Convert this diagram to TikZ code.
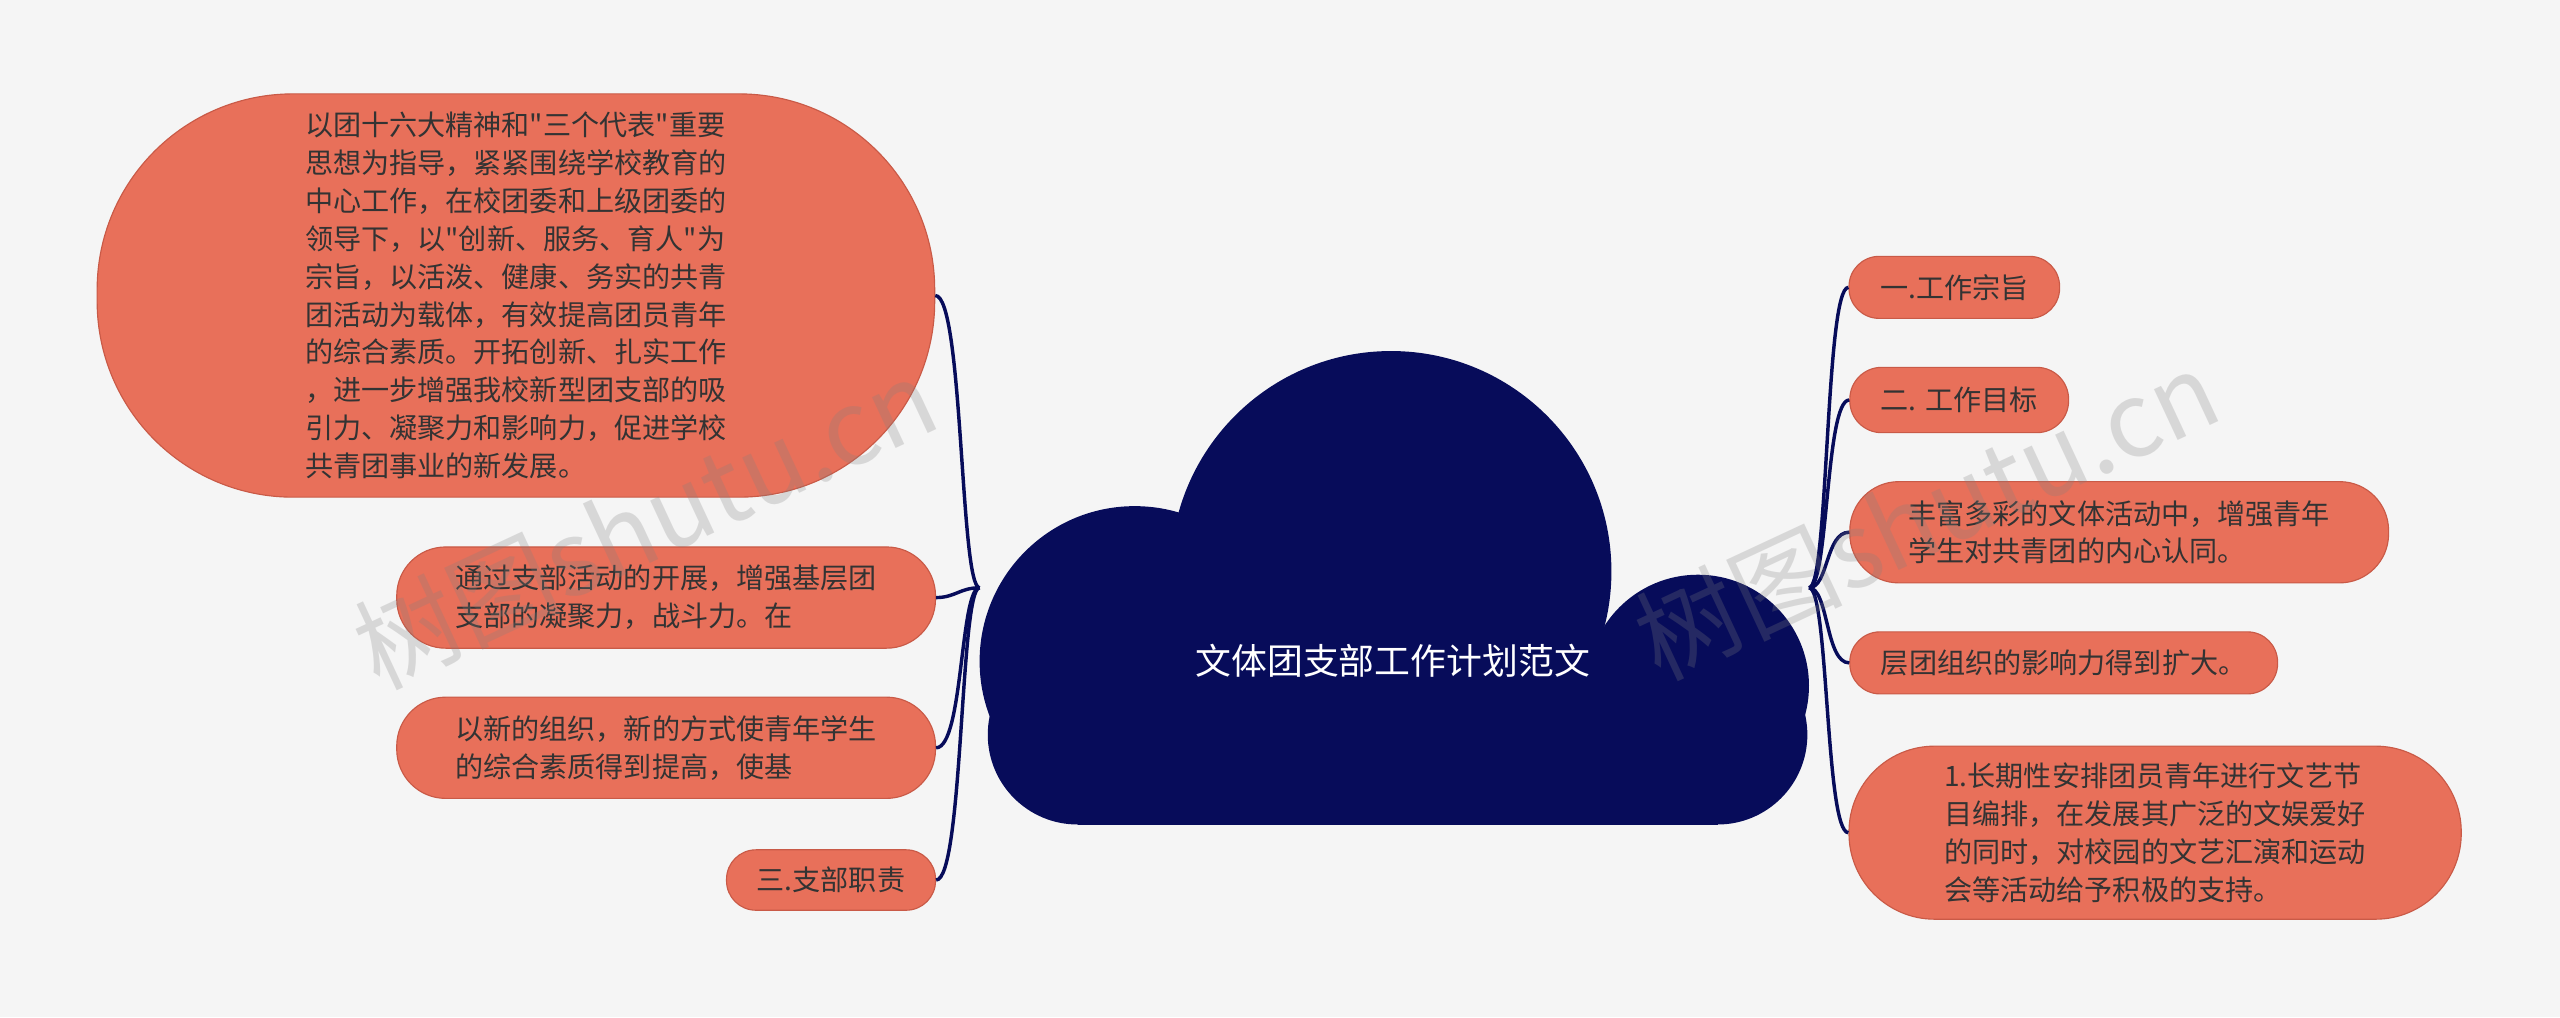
\documentclass[tikz,border=0pt]{standalone}
\usepackage{fontspec}
\newfontfamily\cjk{Noto Sans CJK SC}
\definecolor{bg}{HTML}{F5F5F5}
\definecolor{pill}{HTML}{E8705A}
\definecolor{pillline}{HTML}{C95A47}
\definecolor{navy}{HTML}{070C5A}
\tikzset{
  topic/.style={draw=pillline, fill=pill, text=black!80, align=left, inner sep=0pt,
    font=\cjk\fontsize{9.8}{13.2}\selectfont},
  link/.style={draw=navy, line width=1.2pt},
  wmark/.style={text=gray, text opacity=0.25, font=\cjk\fontsize{36}{36}\selectfont, rotate=25}
}
\begin{document}
\begin{tikzpicture}[x=0.02cm,y=-0.02cm]
\fill[bg] (0,0) rectangle (1568,623);
\useasboundingbox (0,0) rectangle (1568,623);
% cloud
\fill[navy] (695,405) circle (95);
\fill[navy] (852,350) circle (135);
\fill[navy] (1040,420) circle (68);
\fill[navy] (660,450) circle (55);
\fill[navy] (1052,450) circle (55);
\fill[navy] (660,395) rectangle (1052,505);
\node[text=white, font=\cjk\fontsize{12.5}{14}\selectfont] (root) at (853,405) {文体团支部工作计划范文};
% left topics
\node[topic, minimum width=513*0.02cm, minimum height=247*0.02cm, rounded corners=2.4cm] (l1) at (316,181) {以团十六大精神和"三个代表"重要\\思想为指导，紧紧围绕学校教育的\\中心工作，在校团委和上级团委的\\领导下，以"创新、服务、育人"为\\宗旨，以活泼、健康、务实的共青\\团活动为载体，有效提高团员青年\\的综合素质。开拓创新、扎实工作\\，进一步增强我校新型团支部的吸\\引力、凝聚力和影响力，促进学校\\共青团事业的新发展。};
\node[topic, minimum width=330*0.02cm, minimum height=62*0.02cm, rounded corners=0.6cm] (l2) at (408,366) {通过支部活动的开展，增强基层团\\支部的凝聚力，战斗力。在};
\node[topic, minimum width=330*0.02cm, minimum height=62*0.02cm, rounded corners=0.6cm] (l3) at (408,458) {以新的组织，新的方式使青年学生\\的综合素质得到提高，使基};
\node[topic, minimum width=128*0.02cm, minimum height=37*0.02cm, rounded corners=0.36cm] (l4) at (509,539) {三.支部职责};
% right topics
\node[topic, minimum width=129*0.02cm, minimum height=38*0.02cm, rounded corners=0.37cm] (r1) at (1197,176) {一.工作宗旨};
\node[topic, minimum width=134*0.02cm, minimum height=40*0.02cm, rounded corners=0.39cm] (r2) at (1200,245) {二. 工作目标};
\node[topic, minimum width=330*0.02cm, minimum height=62*0.02cm, rounded corners=0.6cm] (r3) at (1298,326) {丰富多彩的文体活动中，增强青年\\学生对共青团的内心认同。};
\node[topic, minimum width=262*0.02cm, minimum height=38*0.02cm, rounded corners=0.37cm] (r4) at (1264,406) {层团组织的影响力得到扩大。};
\node[topic, minimum width=375*0.02cm, minimum height=106*0.02cm, rounded corners=1.05cm] (r5) at (1320,510) {1.长期性安排团员青年进行文艺节\\目编排，在发展其广泛的文娱爱好\\的同时，对校园的文艺汇演和运动\\会等活动给予积极的支持。};
% connectors
\coordinate (hl) at (600,360);
\coordinate (hr) at (1108,360);
\draw[link] (hl) .. controls (588,360) and (590,181) .. (l1.east);
\draw[link] (hl) .. controls (588,360) and (585,366) .. (l2.east);
\draw[link] (hl) .. controls (588,360) and (590,458) .. (l3.east);
\draw[link] (hl) .. controls (588,360) and (590,539) .. (l4.east);
\draw[link] (hr) .. controls (1120,360) and (1118,176) .. (r1.west);
\draw[link] (hr) .. controls (1120,360) and (1118,245) .. (r2.west);
\draw[link] (hr) .. controls (1120,360) and (1118,326) .. (r3.west);
\draw[link] (hr) .. controls (1120,360) and (1118,406) .. (r4.west);
\draw[link] (hr) .. controls (1120,360) and (1118,510) .. (r5.west);
% watermark
\node[wmark] (wm1) at (395,320) {树图shutu.cn};
\node[wmark] (wm2) at (1180,315) {树图shutu.cn};
\end{tikzpicture}
\end{document}
